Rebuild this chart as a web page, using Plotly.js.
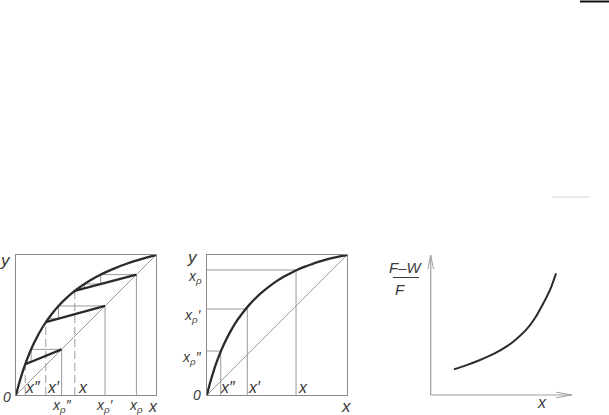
<!DOCTYPE html>
<html><head><meta charset="utf-8">
<script src="https://cdn.plot.ly/plotly-3.0.1.min.js"></script>
<style>html,body{margin:0;padding:0;background:#fff}#c{width:609px;height:415px}</style>
</head><body><div id="c"></div>
<script>
// ---------- Diagram 1: equilibrium curve with operating lines ----------
const curveX  = [0, 0.02, 0.05, 0.08, 0.12, 0.16, 0.2, 0.25, 0.3, 0.35, 0.4, 0.45, 0.5, 0.55, 0.6, 0.65, 0.7, 0.75, 0.8, 0.85, 0.9, 0.95, 1];
const curveY1 = [0, 0.075, 0.174, 0.258, 0.353, 0.432, 0.5, 0.571, 0.632, 0.683, 0.727, 0.766, 0.8, 0.83, 0.857, 0.881, 0.903, 0.923, 0.941, 0.958, 0.973, 0.987, 1];
const residueX   = [0.066, 0.213, 0.42];   // x'', x', x
const residueY   = [0.22, 0.52, 0.744];    // on equilibrium curve
const distillX   = [0.326, 0.636, 0.86];   // xp'', xp', xp
const residueLabels = ["x″", "x′", "x"];
const distillLabels = ["x<sub>ρ</sub>″", "x<sub>ρ</sub>′", "x<sub>ρ</sub>"];
const stair1X = [0.326, 0.108, 0.108, 0.072];
const stair1Y = [0.326, 0.326, 0.237, 0.237];
const stair2X = [0.636, 0.304, 0.304, 0.23, 0.23, 0.216];
const stair2Y = [0.636, 0.636, 0.545, 0.545, 0.525, 0.525];
const stair3X = [0.86, 0.605, 0.605, 0.489, 0.489, 0.445, 0.445];
const stair3Y = [0.86, 0.86, 0.793, 0.793, 0.762, 0.762, 0.751];

// ---------- Diagram 2 ----------
const curveY2 = [0, 0.08, 0.18, 0.265, 0.36, 0.44, 0.51, 0.58, 0.642, 0.695, 0.74, 0.78, 0.815, 0.846, 0.872, 0.896, 0.917, 0.935, 0.952, 0.967, 0.98, 0.991, 1];
const liquidX2 = [0.098, 0.288, 0.636];   // x'', x', x
const vaporY2  = [0.314, 0.614, 0.893];   // xp'', xp', xp

// ---------- Diagram 3: (F-W)/F versus x ----------
const fracX = [0.165, 0.25, 0.35, 0.45, 0.539, 0.6, 0.681, 0.74, 0.799, 0.85, 0.889];
const fracY = [0.184, 0.212, 0.25, 0.295, 0.347, 0.393, 0.47, 0.55, 0.655, 0.76, 0.869];
const fracTitleTop = 'F–W', fracTitleBottom = 'F';

const THIN = '#9a9a9a', THICK = '#2b2b2b', TXT = '#3a3a3a';
const FONT = 'Liberation Sans Narrow, Liberation Sans, Arial, sans-serif';
const traces = [];
function line(x, y, ax, opt) {
  traces.push(Object.assign({type:'scatter', mode:'lines', x:x, y:y, xaxis:'x'+ax, yaxis:'y'+ax,
    hoverinfo:'skip', showlegend:false, line:{color:THIN, width:1}}, opt || {}));
}
// Diagram 1
line([0,1],[0,1],'');
distillX.forEach(v => line([v,v],[0,v],''));
residueX.forEach((v,i) => line([v,v],[0,residueY[i]],'',{line:{color:THIN,width:1,dash:'8px,4px'}}));
[[stair1X,stair1Y],[stair2X,stair2Y],[stair3X,stair3Y]].forEach(s => line(s[0], s[1], ''));
residueX.forEach((v,i) => line([v, distillX[i]], [residueY[i], distillX[i]], '', {line:{color:THICK,width:2.3}}));
line(curveX, curveY1, '', {line:{color:THICK,width:2.3,shape:'spline'}});
// Diagram 2
line([0,1],[0,1],'2');
liquidX2.forEach((v,i) => line([0, v, v], [vaporY2[i], vaporY2[i], 0], '2'));
line(curveX, curveY2, '2', {line:{color:THICK,width:2.3,shape:'spline'}});
// Diagram 3
line([0,0],[0,1],'3',{line:{color:'#a0a0a0',width:1.2}});
line([0,1],[0,0],'3',{line:{color:'#a0a0a0',width:1.2}});
line([-0.02,0,0.02],[0.9,1,0.9],'3',{line:{color:'#a0a0a0',width:1}});
line([0.89,1,0.89],[0.02,0,-0.02],'3',{line:{color:'#a0a0a0',width:1}});
line(fracX, fracY, '3', {line:{color:THICK,width:2,shape:'spline',smoothing:0.8}});

const ann = [];
function lab(text, x, y, ax, xs, ys, size, xanchor) {
  ann.push({text:'<i>'+text+'</i>', x:x, y:y, xref:ax==='paper'?'paper':'x'+ax, yref:ax==='paper'?'paper':'y'+ax, showarrow:false,
    xshift:xs, yshift:ys, xanchor:xanchor||'center', yanchor:'middle',
    font:{family:FONT, size:size||15, color:TXT}});
}
// Diagram 1 labels
lab('y', 0, 1, '', -11, -5, 17);
lab('0', 0, 0, '', -9, -2, 14);
distillX.forEach((v,i) => lab(distillLabels[i], v, 0, '', 0, -11, 14));
lab('x', 1, 0, '', -3, -11, 16);
residueX.forEach((v,i) => lab(residueLabels[i], v, 0, '', 8, 8, 16));
// Diagram 2 labels
lab('y', 0, 1, '2', -14, -2, 17);
lab('0', 0, 0, '2', -10, 0, 14);
vaporY2.forEach((v,i) => lab(distillLabels[i], 0, v, '2', -3, -7, 14, 'right'));
liquidX2.forEach((v,i) => lab(residueLabels[i], v, 0, '2', 7, 8, 16));
lab('x', 1, 0, '2', -1, -11, 17);
// Diagram 3 labels (paper coordinates, left of the axis)
lab(fracTitleTop, 406/609, (415-267)/415, 'paper', 0, 0, 15);
lab(fracTitleBottom, 400/609, (415-289)/415, 'paper', 0, 0, 15);
lab('x', 0.787, 0, '3', 0, -7, 16);

const ax = {showgrid:false, zeroline:false, showticklabels:false, ticks:'', fixedrange:true};
const box = {showline:true, mirror:true, linecolor:'#8a8a8a', linewidth:1.2};
const layout = {
  width:609, height:415, margin:{l:0,r:0,t:0,b:0}, paper_bgcolor:'#fff', plot_bgcolor:'rgba(0,0,0,0)',
  showlegend:false,
  xaxis:  Object.assign({}, ax, box, {domain:[16/609,156/609], range:[0,1], anchor:'y'}),
  yaxis:  Object.assign({}, ax, box, {domain:[20/415,160/415], range:[0,1], anchor:'x'}),
  xaxis2: Object.assign({}, ax, box, {domain:[207/609,347/609], range:[0,1], anchor:'y2'}),
  yaxis2: Object.assign({}, ax, box, {domain:[20/415,160/415], range:[0,1], anchor:'x2'}),
  xaxis3: Object.assign({}, ax, {domain:[416.6/609,585.8/609], range:[-0.1,1.1], showline:false, anchor:'y3'}),
  yaxis3: Object.assign({}, ax, {domain:[6/415,174/415], range:[-0.1,1.1], showline:false, anchor:'x3'}),
  annotations: ann,
  shapes: [
    {type:'line', xref:'paper', yref:'paper', x0:393/609, x1:419/609, y0:(415-277.5)/415, y1:(415-277.5)/415, line:{color:TXT,width:1}},
    {type:'line', xref:'paper', yref:'paper', x0:580/609, x1:1, y0:(415-1.5)/415, y1:(415-1.5)/415, line:{color:'#111',width:2}},
    {type:'line', xref:'paper', yref:'paper', x0:552/609, x1:590/609, y0:(415-197)/415, y1:(415-197)/415, line:{color:'#d8d8d8',width:1}}
  ]
};
Plotly.newPlot('c', traces, layout, {staticPlot:true, displayModeBar:false});
</script></body></html>
